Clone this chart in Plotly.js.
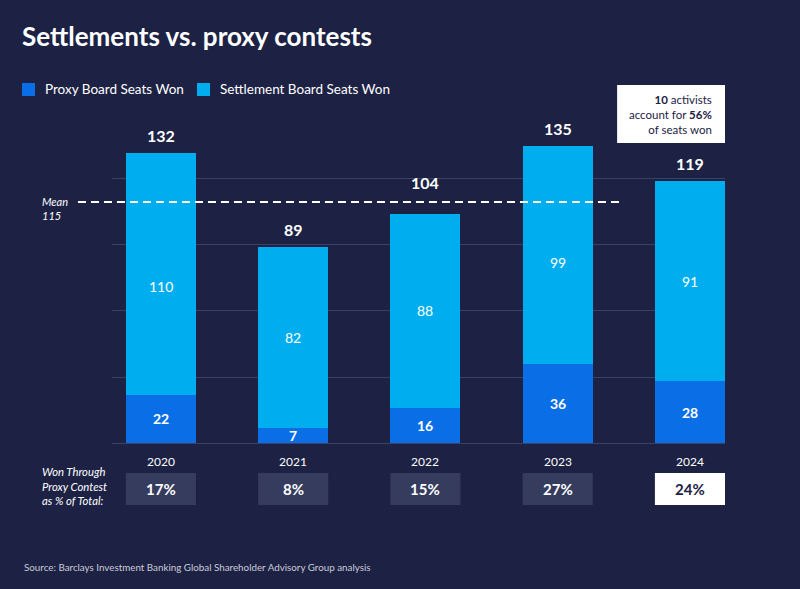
<!DOCTYPE html>
<html>
<head>
<meta charset="utf-8">
<script src="https://cdn.plot.ly/plotly-3.0.1.min.js"></script>
<style>
html,body{margin:0;padding:0;background:#1d2244;}
#chart{width:800px;height:589px;}
</style>
</head>
<body>
<div id="chart"></div>
<script>
// ---- data ----
const years = ['2020', '2021', '2022', '2023', '2024'];
const proxySeats = [22, 7, 16, 36, 28];
const settlementSeats = [110, 82, 88, 99, 91];
const totals = [132, 89, 104, 135, 119];
const proxyShare = ['17%', '8%', '15%', '27%', '24%'];
const seriesNames = ['Proxy Board Seats Won', 'Settlement Board Seats Won'];
const meanLabel = 115;
const meanLinePosition = 109.5; // where the dashed line is drawn in the picture
const yTicks = [0, 30, 60, 90, 120];

// ---- styles ----
const BG = '#1d2244';
const DARK = '#0a6fe6';
const LIGHT = '#00aeef';
const GRID = '#3b4163';
const FONT = 'Lato, "Open Sans", sans-serif';
const BW = 0.53;
const totalShift = [6, 6, 20, 6, 6];      // label offsets in px
const settleShift = [-13, 0, 0, -8, 0];   // label offsets in px
const idx = years.map((_, i) => i);

const traces = [
  {type: 'bar', name: seriesNames[0], x: idx, y: proxySeats,
   width: BW, marker: {color: DARK, line: {width: 0}}, hoverinfo: 'skip', showlegend: false},
  {type: 'bar', name: seriesNames[1], x: idx, y: settlementSeats,
   width: BW, marker: {color: LIGHT, line: {width: 0}}, hoverinfo: 'skip', showlegend: false}
];

const annotations = [];
const shapes = [];

idx.forEach(i => {
  annotations.push({x: i, y: proxySeats[i] / 2, xref: 'x', yref: 'y', text: '<b>' + proxySeats[i] + '</b>',
    showarrow: false, yanchor: 'middle', font: {family: FONT, size: 14, color: '#ffffff'}});
  annotations.push({x: i, y: proxySeats[i] + settlementSeats[i] / 2, xref: 'x', yref: 'y', text: String(settlementSeats[i]),
    showarrow: false, yanchor: 'middle', yshift: settleShift[i], font: {family: FONT, size: 14, color: '#ffffff'}});
  annotations.push({x: i, y: totals[i], xref: 'x', yref: 'y', text: '<b>' + totals[i] + '</b>',
    showarrow: false, yanchor: 'bottom', yshift: totalShift[i], font: {family: FONT, size: 16, color: '#ffffff'}});
  // year labels
  annotations.push({x: i, y: -0.0525, xref: 'x', yref: 'paper', text: years[i], showarrow: false,
    yanchor: 'middle', font: {family: FONT, size: 12, color: '#ffffff'}});
  // share boxes
  const last = i === years.length - 1;
  shapes.push({type: 'rect', xref: 'x', yref: 'paper', x0: i - BW / 2, x1: i + BW / 2,
    y0: -0.181, y1: -0.0875, fillcolor: last ? '#ffffff' : '#363c5e', line: {width: 0}, layer: 'above'});
  annotations.push({x: i, y: -0.134, xref: 'x', yref: 'paper', text: '<b>' + proxyShare[i] + '</b>',
    showarrow: false, yanchor: 'middle', font: {family: FONT, size: 15, color: last ? '#1d2244' : '#ffffff'}});
});

// legend (manual)
const legendItems = [
  {color: DARK, x0: -0.1468, x1: -0.1256, tx: -0.1126},
  {color: LIGHT, x0: 0.1387, x1: 0.1599, tx: 0.1729}
];
legendItems.forEach((it, k) => {
  shapes.push({type: 'rect', xref: 'paper', yref: 'paper', x0: it.x0, x1: it.x1, y0: 1.0117, y1: 1.0496,
    fillcolor: it.color, line: {width: 0}});
  annotations.push({x: it.tx, y: 1.0321, xref: 'paper', yref: 'paper', xanchor: 'left', yanchor: 'middle',
    showarrow: false, text: seriesNames[k], font: {family: FONT, size: 13.5, color: '#ffffff'}});
});

// mean line
shapes.push({type: 'line', xref: 'paper', yref: 'y', x0: -0.0555, x1: 0.832,
  y0: meanLinePosition, y1: meanLinePosition, line: {color: '#ffffff', width: 2, dash: '8px,5px'}, layer: 'above'});
annotations.push({x: -0.117, y: meanLinePosition, xref: 'paper', yref: 'y', xanchor: 'left', yanchor: 'middle',
  align: 'left', showarrow: false, text: '<i>Mean</i><br><i>' + meanLabel + '</i>', yshift: -6,
  font: {family: FONT, size: 11, color: '#ffffff'}});

// callout box
shapes.push({type: 'rect', xref: 'paper', yref: 'paper', x0: 0.824, x1: 1.0, y0: 0.8746, y1: 1.0437,
  fillcolor: '#ffffff', line: {width: 0}});
annotations.push({x: 0.982, y: 0.959, xref: 'paper', yref: 'paper', xanchor: 'right', yanchor: 'middle',
  align: 'right', showarrow: false,
  text: '<b>10</b> activists<br>account for <b>56%</b><br>of seats won',
  font: {family: FONT, size: 11.5, color: '#1d2244'}});

// row label
annotations.push({x: -0.117, y: -0.125, xref: 'paper', yref: 'paper', xanchor: 'left', yanchor: 'middle',
  align: 'left', showarrow: false, text: '<i>Won Through</i><br><i>Proxy Contest</i><br><i>as % of Total:</i>',
  font: {family: FONT, size: 11.3, color: '#ffffff'}});

// source
annotations.push({x: -0.1468, y: -0.3615, xref: 'paper', yref: 'paper', xanchor: 'left', yanchor: 'middle',
  showarrow: false, text: 'Source: Barclays Investment Banking Global Shareholder Advisory Group analysis',
  font: {family: FONT, size: 9.8, color: '#c9cbd8'}});

const layout = {
  width: 800, height: 589,
  paper_bgcolor: BG, plot_bgcolor: BG,
  margin: {l: 112, r: 75, t: 100, b: 146},
  barmode: 'stack', bargap: 0,
  font: {family: FONT, color: '#ffffff'},
  title: {text: '<b>Settlements vs. proxy contests</b>', x: 22 / 800, xanchor: 'left', xref: 'container',
    y: 1 - 37 / 589, yanchor: 'middle', yref: 'container', font: {family: FONT, size: 26, color: '#ffffff'}},
  showlegend: false,
  xaxis: {range: [-0.37, 4.265], tickvals: idx, showticklabels: false, showgrid: false, zeroline: false,
    showline: false, ticks: '', fixedrange: true},
  yaxis: {range: [0, 155.9], tickvals: yTicks, showticklabels: false, showgrid: true, gridcolor: GRID,
    gridwidth: 1, zeroline: true, zerolinecolor: GRID, zerolinewidth: 1, showline: false, fixedrange: true},
  shapes: shapes,
  annotations: annotations
};

Plotly.newPlot('chart', traces, layout, {displayModeBar: false, staticPlot: true});
</script>
</body>
</html>
